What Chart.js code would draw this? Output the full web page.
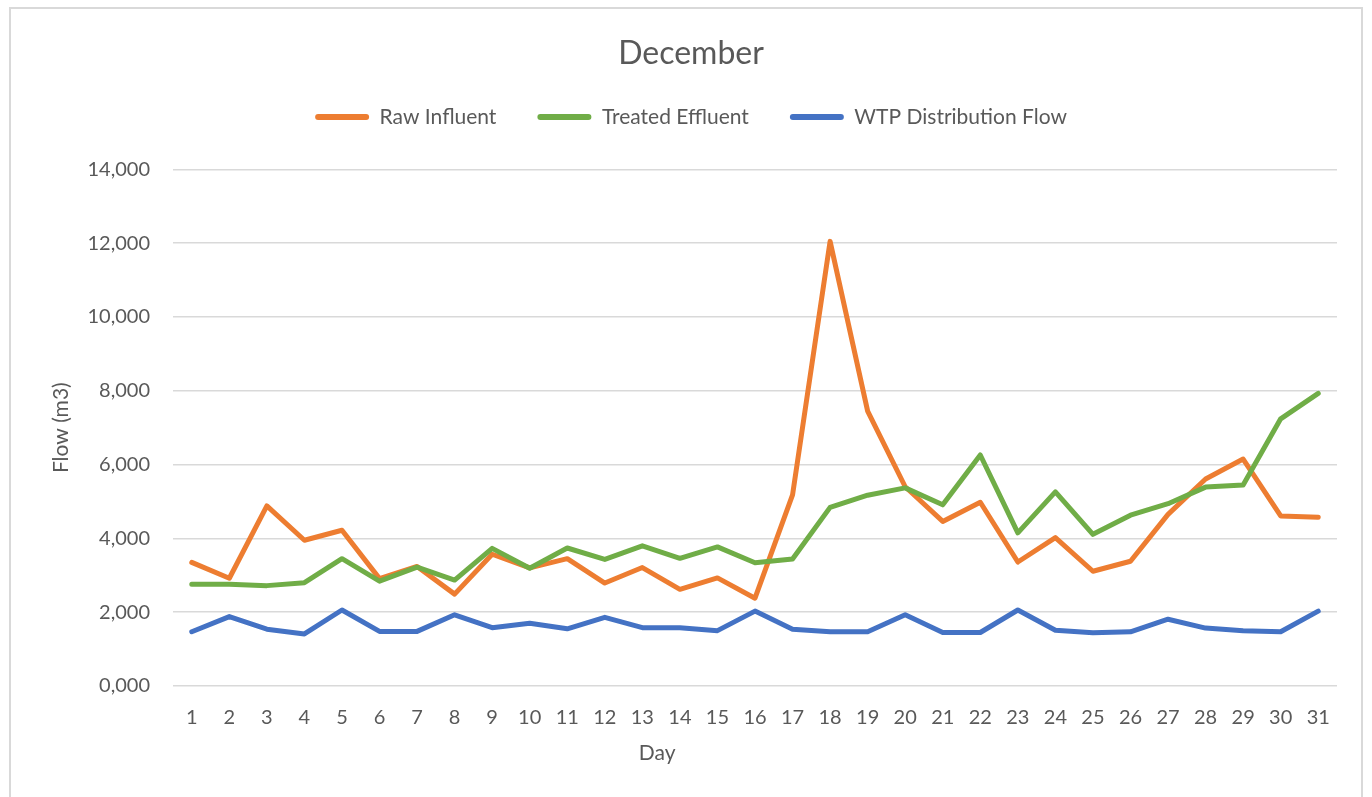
<!DOCTYPE html>
<html>
<head>
<meta charset="utf-8">
<script src="https://cdn.jsdelivr.net/npm/chart.js@4/dist/chart.umd.min.js"></script>
<style>
  html, body { margin: 0; padding: 0; background: #ffffff; }
  body { width: 1372px; height: 797px; position: relative; overflow: hidden; }
  #frame {
    position: absolute; left: 9px; top: 7px; width: 1354px; height: 820px;
    border: 2px solid #d9d9d9; box-sizing: border-box;
  }
  #chart { position: absolute; left: 0; top: 0; }
</style>
</head>
<body>
<div id="frame"></div>
<canvas id="chart" width="1372" height="797"></canvas>
<script>
// Daily flows for December (m3)
const days = ['1','2','3','4','5','6','7','8','9','10','11','12','13','14','15','16',
              '17','18','19','20','21','22','23','24','25','26','27','28','29','30','31'];

const rawInfluent = [3350, 2920, 4880, 3950, 4220, 2910, 3240, 2490, 3570, 3200, 3450,
                     2790, 3210, 2620, 2930, 2380, 5180, 12050, 7450, 5400, 4460, 4980,
                     3360, 4020, 3110, 3380, 4650, 5610, 6150, 4610, 4570];

const treatedEffluent = [2760, 2760, 2720, 2800, 3450, 2840, 3220, 2870, 3730, 3190, 3740,
                         3430, 3800, 3460, 3770, 3340, 3440, 4840, 5170, 5370, 4910, 6260,
                         4150, 5260, 4110, 4630, 4940, 5390, 5450, 7240, 7930];

const wtpDistribution = [1470, 1880, 1540, 1410, 2060, 1480, 1480, 1930, 1580, 1700, 1550,
                         1860, 1580, 1580, 1500, 2030, 1540, 1470, 1470, 1930, 1450, 1450,
                         2060, 1510, 1440, 1470, 1810, 1570, 1500, 1470, 2030];

const yTickLabels = ['0,000', '2,000', '4,000', '6,000', '8,000', '10,000', '12,000', '14,000'];

const seriesNames = ['Raw Influent', 'Treated Effluent', 'WTP Distribution Flow'];
const seriesColors = ['#ED7D31', '#70AD47', '#4472C4'];
const xAxisTitle = 'Day';

const FONT = 'Lato, "Open Sans", sans-serif';
const TEXT = '#595959';

function lineSet(label, data, color, order) {
  return {
    label, data, order,
    borderColor: color, backgroundColor: color,
    borderWidth: 5, pointRadius: 0, pointHoverRadius: 0,
    borderJoinStyle: 'round', borderCapStyle: 'round',
    tension: 0, fill: false
  };
}

// Extra space between the legend and the plot area
const legendGap = {
  id: 'legendGap',
  beforeInit(chart) {
    const fit = chart.legend.fit;
    chart.legend.fit = function () {
      fit.call(this);
      this.height += 32;
    };
  }
};

// Horizontal axis title, set a little left of the plot centre
const xTitle = {
  id: 'xTitle',
  afterDraw(chart) {
    const { ctx, chartArea } = chart;
    ctx.save();
    ctx.font = '21px ' + FONT;
    ctx.fillStyle = TEXT;
    ctx.textAlign = 'center';
    ctx.textBaseline = 'middle';
    ctx.fillText(xAxisTitle, chartArea.left + chartArea.width * 0.416, chartArea.bottom + 67);
    ctx.restore();
  }
};

new Chart(document.getElementById('chart'), {
  type: 'line',
  data: {
    labels: days,
    datasets: [
      lineSet(seriesNames[0], rawInfluent, seriesColors[0], 3),
      lineSet(seriesNames[1], treatedEffluent, seriesColors[1], 2),
      lineSet(seriesNames[2], wtpDistribution, seriesColors[2], 1)
    ]
  },
  plugins: [legendGap, xTitle],
  options: {
    responsive: false,
    animation: false,
    events: [],
    layout: { padding: { left: 45, right: 35, top: 0, bottom: 28 } },
    plugins: {
      tooltip: { enabled: false },
      title: {
        display: true,
        text: 'December',
        color: TEXT,
        font: { family: FONT, size: 32, weight: 'normal' },
        padding: { top: 34, bottom: -7 }
      },
      legend: {
        display: true,
        position: 'top',
        labels: {
          color: TEXT,
          font: { family: FONT, size: 21 },
          boxWidth: 54,
          boxHeight: 6,
          padding: 41,
          useBorderRadius: true,
          borderRadius: 3,
          sort: (a, b) => a.datasetIndex - b.datasetIndex,
          generateLabels(chart) {
            return Chart.defaults.plugins.legend.labels.generateLabels(chart).map(l => ({
              ...l, lineWidth: 0, fillStyle: l.strokeStyle
            }));
          }
        }
      }
    },
    scales: {
      x: {
        offset: true,
        grid: { display: false, drawTicks: false, offset: true },
        border: { display: false },
        ticks: {
          color: TEXT, padding: 20, maxRotation: 0, autoSkip: false,
          font: { family: FONT, size: 20 }
        },
        title: { display: false },
        afterFit(scale) { scale.height = 83; }
      },
      y: {
        min: 0, max: 14000,
        grid: { color: '#d9d9d9', lineWidth: 1.6, drawTicks: false },
        border: { display: false },
        ticks: {
          stepSize: 2000, color: TEXT, padding: 23,
          font: { family: FONT, size: 20 },
          callback: (value, index) => yTickLabels[index]
        },
        title: {
          display: true, text: 'Flow (m3)', color: TEXT,
          font: { family: FONT, size: 21 }
        },
        afterFit(scale) { scale.width = 128; }
      }
    }
  }
});
</script>
</body>
</html>
